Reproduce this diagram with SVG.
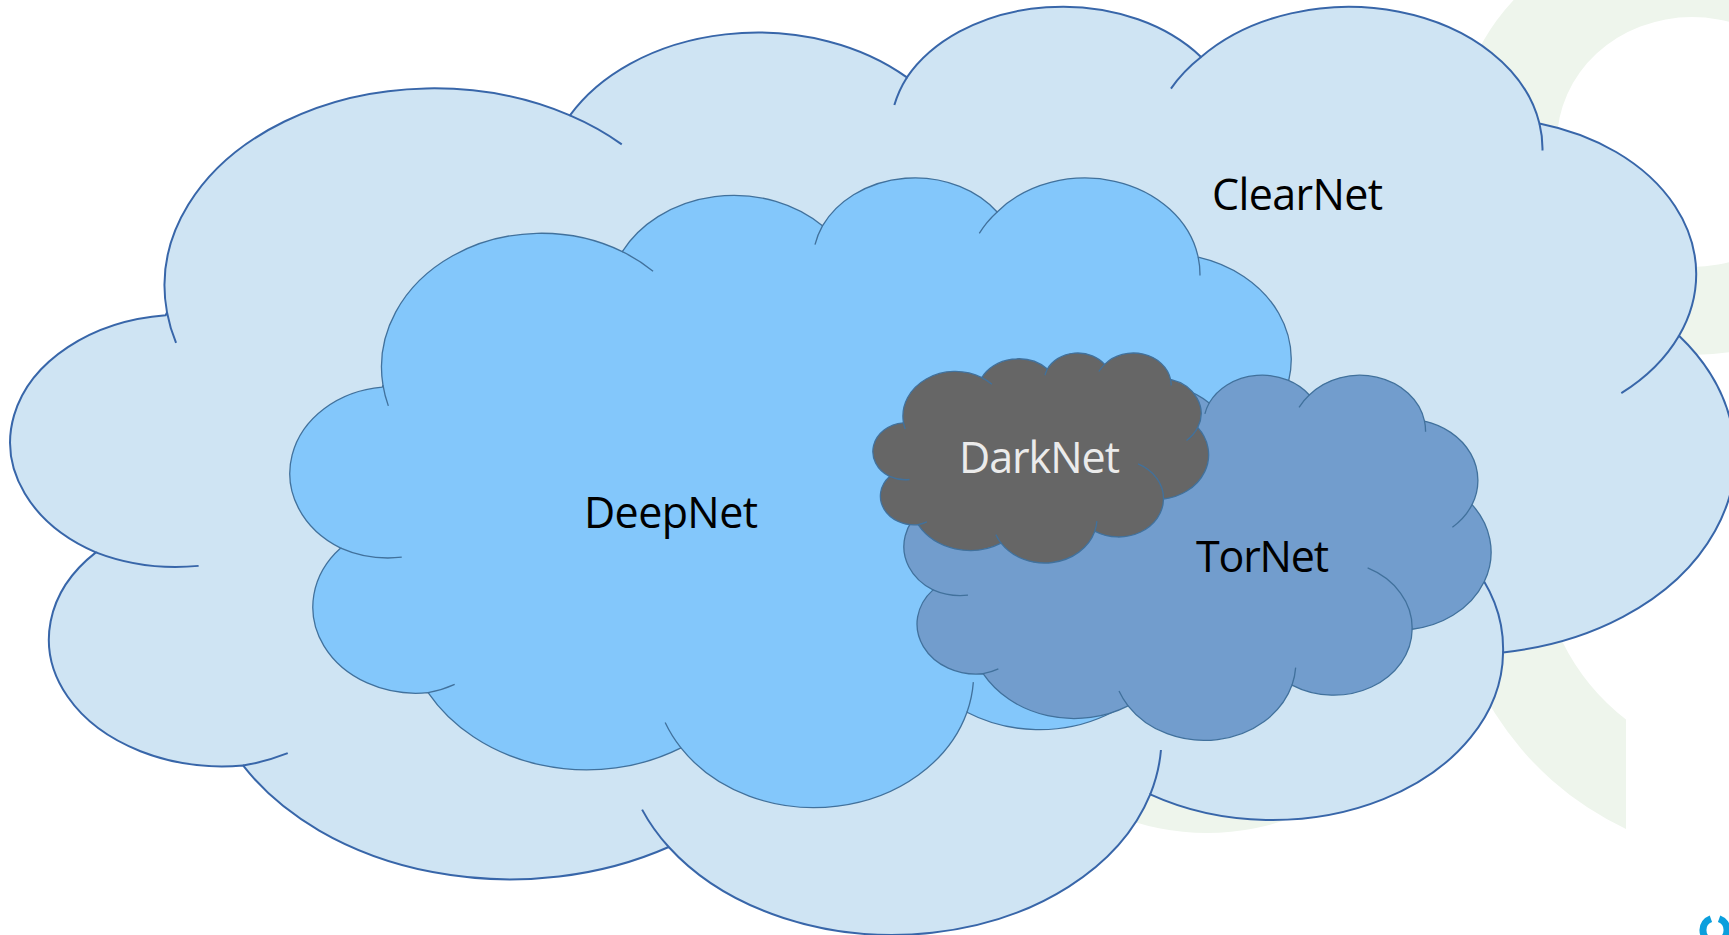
<svg xmlns="http://www.w3.org/2000/svg" xmlns:xlink="http://www.w3.org/1999/xlink" width="1729" height="935" viewBox="0 0 1729 935">
<style>
.clear{fill:#CFE4F3;stroke:#3866A9;stroke-width:2}
.deep{fill:#83C7FB;stroke:#41719C;stroke-width:1.3}
.tor{fill:#729DCD;stroke:#41719C;stroke-width:1.3}
.dark{fill:#666666;stroke:#41719C;stroke-width:1.3}
.hook{fill:none}
.lbl{font-family:"Open Sans","Liberation Sans",sans-serif;font-size:43px;fill:#000000}
.lbl-light{fill:#EBEBEB}
.logo{fill:#EEF5EC}
</style>
<defs>
<path id="cloudShape" vector-effect="non-scaling-stroke" d="M 3900 14370 A 6753 9190 0 0 1 14004.8 5202 A 5333 7267 0 0 1 22456.1 3433 A 4365 5945 0 0 1 29833.2 2482 A 4857 6595 0 0 1 38319.2 5575.8 A 5333 7273 0 0 1 41819.4 15459.3 A 6775 9220 0 0 1 37406.9 30205.4 A 5785 7867 0 0 1 28558.4 36815.5 A 6752 9215 0 0 1 16482.8 39266.5 A 7720 10543 0 0 1 5806.3 35471.4 A 4360 5918 0 0 1 2115.9 25548.1 A 4345 5945 0 0 1 3866.3 14504.6 Z"/>
<path id="cloudHooks" vector-effect="non-scaling-stroke" d="M 4693 26177 A 4345 5945 0 0 1 2115.9 25548.1 M 6928 34899 A 4360 5918 0 0 1 5806.3 35471.4 M 16482.8 39266.5 A 6752 9215 0 0 1 15815 37526 M 28827 34751 A 6752 9215 0 0 1 28558.4 36815.5 M 34129 22954 A 5785 7867 0 0 1 37406.9 30205.4 M 41819.4 15459.3 A 5333 7273 0 0 1 40372.7 18133.9 M 38319.2 5575.8 A 4857 6595 0 0 1 38395.6 6839.7 M 29078 3952 A 4857 6595 0 0 1 29833.2 2482 M 22141 4720 A 4365 5945 0 0 1 22456.1 3433 M 14004.8 5202 A 6753 9190 0 0 1 15304.8 6550.3 M 4127 15789 A 6753 9190 0 0 1 3900 14370"/>
</defs>
<rect x="0" y="0" width="1729" height="935" fill="#FFFFFF"/>
<g id="background-logo">
<path class="logo" fill-rule="evenodd" d="M 1457 140 A 235 215 0 1 1 1927 140 A 235 215 0 1 1 1457 140 Z M 1557 142 A 135 125 0 1 0 1827 142 A 135 125 0 1 0 1557 142 Z"/>
<path class="logo" d="M 1626 829 A 314 314 0 0 1 1446 545 L 1540 545 A 220 220 0 0 0 1626 719.5 Z"/>
<circle class="logo" cx="1207" cy="587" r="246"/>
</g>
<g id="clearnet">
<g transform="matrix(0.039874 0 0 0.021476 11.5 3.7)">
<use xlink:href="#cloudShape" class="clear"/>
<use xlink:href="#cloudHooks" class="clear hook"/>
</g>
<text class="lbl" x="1212" y="210" textLength="171">ClearNet</text>
</g>
<g id="deepnet">
<g transform="matrix(0.023684 0 0 0.014571 290.6 175.8)">
<use xlink:href="#cloudShape" class="deep"/>
<use xlink:href="#cloudHooks" class="deep hook"/>
</g>
<text class="lbl" x="584" y="528" textLength="174">DeepNet</text>
</g>
<g id="tornet">
<g transform="matrix(0.013576 0 0 0.00845 904.3 374)">
<use xlink:href="#cloudShape" class="tor"/>
<use xlink:href="#cloudHooks" class="tor hook"/>
</g>
<text class="lbl" x="1196" y="572" textLength="133">TorNet</text>
</g>
<g id="darknet">
<g transform="matrix(0.007763 0 0 0.004859 873.1 352.3)">
<use xlink:href="#cloudShape" class="dark"/>
<use xlink:href="#cloudHooks" class="dark hook"/>
</g>
<text class="lbl lbl-light" x="959" y="473" textLength="161">DarkNet</text>
</g>
<g id="connectors"></g>
<g id="corner-logo" fill="none" stroke="#0B9FDD" stroke-width="7">
<path d="M 1710.9 918.7 A 12 12 0 0 0 1710.9 941.3"/>
<path d="M 1719.1 918.7 A 12 12 0 0 1 1719.1 941.3"/>
</g>
</svg>
